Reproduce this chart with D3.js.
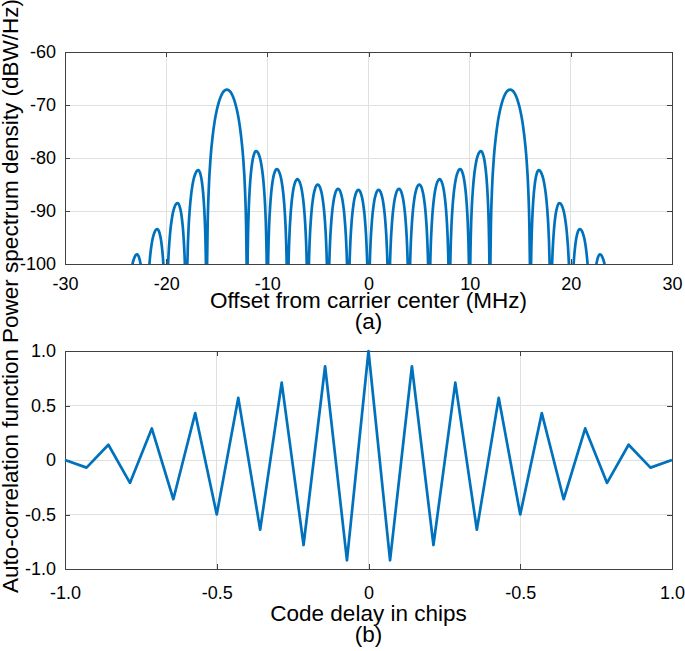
<!DOCTYPE html>
<html>
<head>
<meta charset="utf-8">
<script src="https://cdn.jsdelivr.net/npm/d3@7"></script>
<style>
  html, body { margin: 0; padding: 0; background: #fff; }
  svg { display: block; }
</style>
</head>
<body>
<div id="chart"></div>
<script>
// (a) power spectrum: one lobe between two nulls, peak position and level
const lobeStart = [-24, -22, -20, -18, -16, -12, -10, -8, -6, -4, -2, 0, 2, 4, 6, 8, 10, 12, 16, 18, 20, 22];
const lobeEnd   = [-22, -20, -18, -16, -12, -10, -8, -6, -4, -2, 0, 2, 4, 6, 8, 10, 12, 16, 18, 20, 22, 24];
const lobePeakX = [-22.88, -20.89, -18.88, -16.83, -14, -11.11, -9.06, -7.03, -5.02, -3.01, -1, 1,
                   3.01, 5.02, 7.03, 9.06, 11.11, 14, 16.83, 18.88, 20.89, 22.88];
const lobePeak  = [-98.2, -93.4, -88.5, -82.3, -67.1, -78.7, -82.1, -84.0, -85.0, -85.8, -86.0, -86.0,
                   -85.8, -85.0, -84.0, -82.1, -78.7, -67.1, -82.3, -88.5, -93.4, -98.2];

// lobe outline: fraction of the way from null to peak, dB under the peak
const sideLobeShape = [[0, -40], [0.02, -30], [0.05, -22.1], [0.1, -16.1], [0.2, -10.2], [0.3, -6.9],
                       [0.4, -4.6], [0.5, -3.0], [0.6, -1.8], [0.7, -1.0], [0.8, -0.44], [0.9, -0.11], [1, 0]];
const mainLobeShape = [[0, -40], [0.02, -33.7], [0.05, -25.5], [0.1, -19.2], [0.2, -12.6], [0.3, -8.7],
                       [0.4, -5.9], [0.5, -3.9], [0.6, -2.4], [0.7, -1.3], [0.8, -0.56], [0.9, -0.14], [1, 0]];

// (b) auto-correlation
const acfDelay = [-1, -0.929, -0.857, -0.786, -0.714, -0.643, -0.571, -0.5, -0.429, -0.357, -0.286, -0.214,
                  -0.143, -0.071, 0, 0.071, 0.143, 0.214, 0.286, 0.357, 0.429, 0.5, 0.571, 0.643, 0.714,
                  0.786, 0.857, 0.929, 1];
const acfValue = [0, -0.07, 0.14, -0.21, 0.29, -0.36, 0.43, -0.5, 0.57, -0.64, 0.71, -0.78, 0.86, -0.92,
                  1, -0.92, 0.86, -0.78, 0.71, -0.64, 0.57, -0.5, 0.43, -0.36, 0.29, -0.21, 0.14, -0.07, 0];

const psdXTicks = [-30, -20, -10, 0, 10, 20, 30];
const psdXTickLabels = ["-30", "-20", "-10", "0", "10", "20", "30"];
const psdYTicks = [-100, -90, -80, -70, -60];
const psdYTickLabels = ["-100", "-90", "-80", "-70", "-60"];
const acfXTicks = [-1, -0.5, 0, 0.5, 1];
const acfXTickLabels = ["-1.0", "-0.5", "0", "-0.5", "1.0"];
const acfYTicks = [-1, -0.5, 0, 0.5, 1];
const acfYTickLabels = ["-1.0", "-0.5", "0", "0.5", "1.0"];

(function () {
  const W = 685, H = 651;
  const FONT = '"Liberation Sans", Arial, Helvetica, sans-serif';
  const BLUE = "#0072BD";
  const AXIS = "#404040";
  const GRID = "#e0e0e0";
  const LEFT = 65, RIGHT = 672;

  const svg = d3.select("#chart").append("svg")
    .attr("width", W)
    .attr("height", H)
    .style("font-family", FONT);

  function panel(opt) {
    const x = d3.scaleLinear().domain(opt.xDomain).range([LEFT, RIGHT]);
    const y = d3.scaleLinear().domain(opt.yDomain).range([opt.bottom, opt.top]);
    const g = svg.append("g");

    // grid
    g.append("g").selectAll("line")
      .data(opt.xTicks.slice(1, -1))
      .join("line")
      .attr("x1", d => x(d)).attr("x2", d => x(d))
      .attr("y1", opt.top).attr("y2", opt.bottom)
      .attr("stroke", GRID).attr("shape-rendering", "crispEdges");
    g.append("g").selectAll("line")
      .data(opt.yTicks.slice(1, -1))
      .join("line")
      .attr("y1", d => y(d)).attr("y2", d => y(d))
      .attr("x1", LEFT).attr("x2", RIGHT)
      .attr("stroke", GRID).attr("shape-rendering", "crispEdges");

    // ticks on all four sides, pointing in
    const bx = g.append("g")
      .attr("transform", `translate(0,${opt.bottom})`)
      .call(d3.axisBottom(x).tickValues(opt.xTicks)
        .tickFormat((d, i) => opt.xTickLabels[i])
        .tickSizeInner(-5).tickSizeOuter(0).tickPadding(opt.xPad));
    const ly = g.append("g")
      .attr("transform", `translate(${LEFT},0)`)
      .call(d3.axisLeft(y).tickValues(opt.yTicks)
        .tickFormat((d, i) => opt.yTickLabels[i])
        .tickSizeInner(-5).tickSizeOuter(0).tickPadding(9));
    const tx = g.append("g")
      .attr("transform", `translate(0,${opt.top})`)
      .call(d3.axisTop(x).tickValues(opt.xTicks).tickFormat("")
        .tickSizeInner(-5).tickSizeOuter(0));
    const ry = g.append("g")
      .attr("transform", `translate(${RIGHT},0)`)
      .call(d3.axisRight(y).tickValues(opt.yTicks).tickFormat("")
        .tickSizeInner(-5).tickSizeOuter(0));

    [bx, ly, tx, ry].forEach(a => {
      a.select(".domain").remove();
      a.selectAll(".tick line").attr("stroke", AXIS).attr("shape-rendering", "crispEdges");
      a.selectAll(".tick text")
        .attr("fill", "#000")
        .style("font-family", FONT)
        .style("font-size", "18px");
    });

    g.append("rect")
      .attr("x", LEFT).attr("y", opt.top)
      .attr("width", RIGHT - LEFT).attr("height", opt.bottom - opt.top)
      .attr("fill", "none").attr("stroke", AXIS)
      .attr("shape-rendering", "crispEdges");

    const cx = (LEFT + RIGHT) / 2;
    g.append("text")
      .attr("x", cx).attr("y", opt.xLabelY)
      .attr("text-anchor", "middle")
      .style("font-size", "22.5px")
      .text(opt.xLabel);
    g.append("text")
      .attr("x", cx).attr("y", opt.xLabelY + 21)
      .attr("text-anchor", "middle")
      .style("font-size", "22.5px")
      .text(opt.tag);
    g.append("text")
      .attr("transform", `translate(17.5,${opt.yLabelY}) rotate(-90)`)
      .attr("text-anchor", "middle")
      .style("font-size", "22.5px")
      .text(opt.yLabel);

    return { x, y, g };
  }

  // ---------- (a) ----------
  const a = panel({
    top: 52, bottom: 264,
    xDomain: [-30, 30], yDomain: [-100, -60],
    xTicks: psdXTicks, xTickLabels: psdXTickLabels,
    yTicks: psdYTicks, yTickLabels: psdYTickLabels,
    xPad: 13,
    xLabel: "Offset from carrier center (MHz)", xLabelY: 308, tag: "(a)",
    yLabel: "Power spectrum density (dBW/Hz)", yLabelY: 171
  });

  const psd = [];
  lobeStart.forEach((s, i) => {
    const e = lobeEnd[i], px = lobePeakX[i], pk = lobePeak[i];
    const shape = (e - s) > 2 ? mainLobeShape : sideLobeShape;
    shape.forEach(([t, dB]) => psd.push([s + t * (px - s), pk + dB]));
    shape.slice(0, -1).reverse().forEach(([t, dB]) => psd.push([e - t * (e - px), pk + dB]));
  });

  svg.append("clipPath").attr("id", "clipA")
    .append("rect")
    .attr("x", LEFT).attr("y", 52)
    .attr("width", RIGHT - LEFT).attr("height", 264 - 52);

  a.g.append("path")
    .datum(psd)
    .attr("clip-path", "url(#clipA)")
    .attr("fill", "none")
    .attr("stroke", BLUE)
    .attr("stroke-width", 2.7)
    .attr("stroke-linejoin", "round")
    .attr("d", d3.line().x(d => a.x(d[0])).y(d => a.y(d[1])).curve(d3.curveMonotoneX));

  // ---------- (b) ----------
  const b = panel({
    top: 351, bottom: 569,
    xDomain: [-1, 1], yDomain: [-1, 1],
    xTicks: acfXTicks, xTickLabels: acfXTickLabels,
    yTicks: acfYTicks, yTickLabels: acfYTickLabels,
    xPad: 17,
    xLabel: "Code delay in chips", xLabelY: 621, tag: "(b)",
    yLabel: "Auto-correlation function", yLabelY: 471
  });

  b.g.append("path")
    .datum(acfDelay.map((d, i) => [d, acfValue[i]]))
    .attr("fill", "none")
    .attr("stroke", BLUE)
    .attr("stroke-width", 2.7)
    .attr("stroke-linejoin", "round")
    .attr("d", d3.line().x(d => b.x(d[0])).y(d => b.y(d[1])));
})();
</script>
</body>
</html>
